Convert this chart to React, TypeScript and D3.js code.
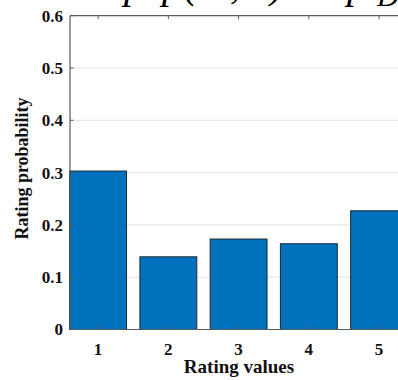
import React, { useRef, useEffect } from 'react';
import * as d3 from 'd3';

// rating histogram values
const ratings = [1, 2, 3, 4, 5];
const probs = [0.303, 0.139, 0.173, 0.164, 0.227];
const yTicks = [0, 0.1, 0.2, 0.3, 0.4, 0.5, 0.6];

// title pieces (only the bottoms survive the crop)
const titleParts: [string, number][] = [
  ['p', 124],
  ['p', 162],
  ['(u', 184],
  [', i', 230],
  [')', 270],
  ['=', 298],
  ['p', 347],
];

function App() {
  const svgRef = useRef<SVGSVGElement>(null);

  useEffect(() => {
    const w = 398;
    const h = 380;
    const svg = d3.select(svgRef.current).attr('width', w).attr('height', h);
    svg.selectAll('*').remove();

    const left = 70;
    const top = 15.7;
    const bottom = 329.5;

    // x axis domain starts at 0.6 like the matlab figure
    const x = d3.scaleLinear().domain([0.6, 5.4]).range([left, left + 4.8 * 70.25]);
    const y = d3.scaleLinear().domain([0, 0.6]).range([bottom, top]);
    const bw = 0.81;

    const font = "'Liberation Serif', 'Times New Roman', serif";

    // grid
    svg.append('g')
      .selectAll('line')
      .data(yTicks.filter(d => d > 0 && d < 0.6))
      .join('line')
      .attr('x1', left)
      .attr('x2', w)
      .attr('y1', d => y(d))
      .attr('y2', d => y(d))
      .attr('stroke', '#e3e3e3')
      .attr('stroke-width', 1);

    // bars
    svg.append('g')
      .selectAll('rect')
      .data(probs)
      .join('rect')
      .attr('x', (d, i) => x(ratings[i] - bw / 2))
      .attr('y', d => y(d))
      .attr('width', x(1 + bw) - x(1))
      .attr('height', d => bottom - y(d))
      .attr('fill', '#0072BD')
      .attr('stroke', '#1f2a33')
      .attr('stroke-width', 1);

    // axes lines
    const axisColor = '#5a5a5a';
    svg.append('line')
      .attr('x1', left).attr('x2', w).attr('y1', bottom).attr('y2', bottom)
      .attr('stroke', axisColor).attr('stroke-width', 1.2);
    svg.append('line')
      .attr('x1', left).attr('x2', w).attr('y1', top).attr('y2', top)
      .attr('stroke', axisColor).attr('stroke-width', 1.2);
    svg.append('line')
      .attr('x1', left).attr('x2', left).attr('y1', top).attr('y2', bottom)
      .attr('stroke', axisColor).attr('stroke-width', 1.2);

    // tick marks (inward)
    const tk = svg.append('g').attr('stroke', axisColor).attr('stroke-width', 1);
    ratings.forEach(r => {
      tk.append('line').attr('x1', x(r)).attr('x2', x(r)).attr('y1', bottom).attr('y2', bottom - 3.5);
      tk.append('line').attr('x1', x(r)).attr('x2', x(r)).attr('y1', top).attr('y2', top + 3.5);
    });
    yTicks.forEach(t => {
      tk.append('line').attr('x1', left).attr('x2', left + 3.5).attr('y1', y(t)).attr('y2', y(t));
    });

    // tick labels
    svg.append('g')
      .selectAll('text')
      .data(yTicks)
      .join('text')
      .attr('x', 63)
      .attr('y', d => y(d))
      .attr('dy', '0.35em')
      .attr('text-anchor', 'end')
      .attr('font-family', font)
      .attr('font-weight', 'bold')
      .attr('font-size', 17)
      .attr('fill', '#111')
      .text(d => (d === 0 ? '0' : d.toFixed(1)));

    svg.append('g')
      .selectAll('text')
      .data(ratings)
      .join('text')
      .attr('x', d => x(d))
      .attr('y', 355)
      .attr('text-anchor', 'middle')
      .attr('font-family', font)
      .attr('font-weight', 'bold')
      .attr('font-size', 17)
      .attr('fill', '#111')
      .text(d => d);

    // axis titles
    svg.append('text')
      .attr('x', 239)
      .attr('y', 373)
      .attr('text-anchor', 'middle')
      .attr('font-family', font)
      .attr('font-weight', 'bold')
      .attr('font-size', 19)
      .attr('fill', '#111')
      .text('Rating values');

    svg.append('text')
      .attr('transform', 'translate(28,168.5) rotate(-90)')
      .attr('text-anchor', 'middle')
      .attr('font-family', font)
      .attr('font-weight', 'bold')
      .attr('font-size', 18)
      .attr('fill', '#111')
      .text('Rating probability');

    // title, clipped at the top edge
    const title = svg.append('text')
      .attr('font-family', font)
      .attr('font-style', 'italic')
      .attr('font-size', 40)
      .attr('fill', '#000');
    titleParts.forEach(([s, px]) => {
      title.append('tspan').attr('x', px).attr('y', -2).text(s);
    });
    title.append('tspan').attr('x', 377).attr('y', 6).attr('font-size', 30).text('D');
  }, []);

  return (
    <div style={{ position: 'absolute', left: 0, top: 0 }}>
      <svg ref={svgRef} style={{ display: 'block' }}></svg>
    </div>
  );
}

export default App;
